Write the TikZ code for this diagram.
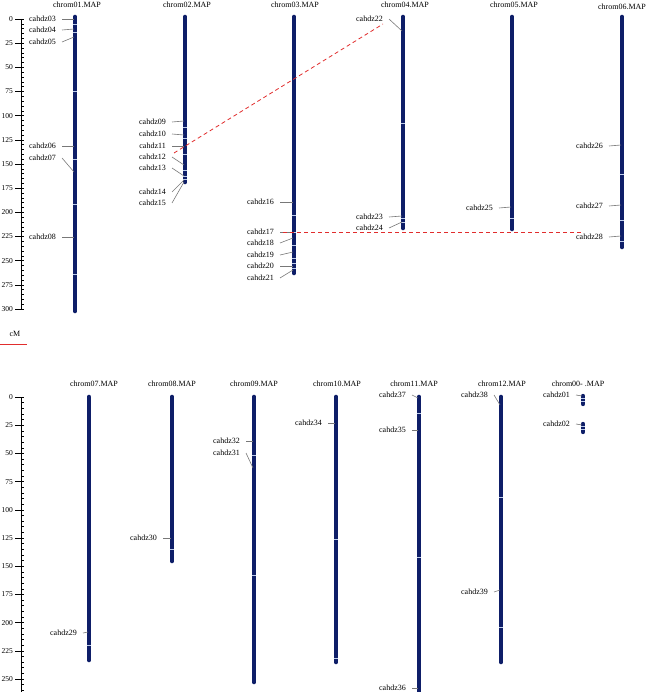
\documentclass[tikz,border=0pt]{standalone}
\usepackage{fontspec}
\setmainfont{Liberation Serif}
\definecolor{chrblue}{RGB}{14,30,104}
\definecolor{bandblue}{RGB}{190,205,235}
\definecolor{linkred}{RGB}{225,45,45}
\definecolor{leadgray}{RGB}{120,120,120}
\tikzset{
  chrbar/.style={draw=chrblue, line width=4.6pt, line cap=round},
  band/.style={draw=bandblue, line width=0.7pt},
  lbl/.style={font=\fontsize{8}{9}\selectfont, anchor=east, inner sep=0pt},
  ttl/.style={font=\fontsize{8}{9}\selectfont, inner sep=0pt},
  tlab/.style={font=\fontsize{7.5}{9}\selectfont, anchor=east, inner sep=0pt},
  lead/.style={draw=leadgray, line width=0.6pt},
  link/.style={draw=linkred, dashed, dash pattern=on 4pt off 3pt, line width=0.8pt},
  axisline/.style={draw=black, line width=0.6pt},
  scalebar/.style={color=linkred, line width=1.1pt},
}
% #1 marker number, #2 label east x, #3 label y, #4 bar x, #5 bar y
\newcommand\mkr[5]{%
  \node[lbl] (l#1) at (#2,#3) {cahdz#1};
  \coordinate (m#1) at (#4,#5);
  \draw[lead] ([xshift=6pt]l#1.east) -- (m#1);
}
% #1 bar x, #2 list of band y
\newcommand\bands[2]{%
  \foreach \b in {#2} {\draw[band] (#1-2.4,\b) -- (#1+2.4,\b);}
}
\begin{document}
\begin{tikzpicture}[x=1pt,y=-1pt]
\useasboundingbox (0,0) rectangle (647,692);
\clip (0,0) rectangle (647,692);

% ---------- top axis ----------
\draw[axisline] (21,19) -- (21,309);
\foreach \i in {0,...,12} {
  \pgfmathsetmacro\yy{19+\i*24.1667}
  \pgfmathtruncatemacro\vv{\i*25}
  \draw[axisline] (15,\yy) -- (21,\yy);
  \node[tlab] (ta\i) at (13,\yy) {\vv};
}
\foreach \i in {0,...,60} {
  \pgfmathsetmacro\yy{19+\i*4.8333}
  \draw[axisline, line width=0.5pt] (21,\yy) -- (23.5,\yy);
}
\node[ttl] (cm) at (15,334) {cM};
\coordinate (sbl) at (0,344.5);
\coordinate (sbr) at (27,344.5);
\draw[scalebar] (sbl) -- (sbr);

% ---------- top row chromosomes ----------
\node[ttl] (t01) at (77,5) {chrom01.MAP};
\node[ttl] (t02) at (187,5) {chrom02.MAP};
\node[ttl] (t03) at (295,5) {chrom03.MAP};
\node[ttl] (t04) at (405,5) {chrom04.MAP};
\node[ttl] (t05) at (514,5) {chrom05.MAP};
\node[ttl] (t06) at (622,7) {chrom06.MAP};

\draw[chrbar] (75,17) -- (75,311);
\bands{75}{24,32,91,159,204,274}
\draw[chrbar] (185,17) -- (185,182);
\bands{185}{127,138,154,170,176,179}
\draw[chrbar] (294,17) -- (294,273);
\bands{294}{215,232,245,258,263,268}
\draw[chrbar] (403,17) -- (403,228);
\bands{403}{123,218,222}
\draw[chrbar] (512,17) -- (512,229);
\bands{512}{218}
\draw[chrbar] (622,17) -- (622,247);
\bands{622}{174,220,241}

% chrom01
\mkr{03}{56}{19}{74}{19}
\mkr{04}{56}{30}{74}{29}
\mkr{05}{56}{42}{74}{37}
\mkr{06}{56}{146}{74}{146}
\mkr{07}{56}{158}{74}{172}
\mkr{08}{56}{237}{74}{237}
% chrom02
\mkr{09}{166}{122}{184}{121}
\mkr{10}{166}{134}{184}{135}
\mkr{11}{166}{146}{184}{146}
\mkr{12}{166}{157}{184}{165}
\mkr{13}{166}{168}{184}{176}
\mkr{14}{166}{192}{184}{180}
\mkr{15}{166}{203}{184}{182}
% chrom03
\mkr{16}{274}{202}{293}{202}
\mkr{17}{274}{232}{293}{232}
\mkr{18}{274}{243}{293}{238}
\mkr{19}{274}{255}{293}{252}
\mkr{20}{274}{266}{293}{266}
\mkr{21}{274}{278}{293}{270}
% chrom04
\mkr{22}{383}{19}{402}{31}
\mkr{23}{383}{217}{402}{216}
\mkr{24}{383}{228}{402}{222}
% chrom05
\mkr{25}{493}{208}{511}{207}
% chrom06
\mkr{26}{603}{146}{621}{145}
\mkr{27}{603}{206}{621}{205}
\mkr{28}{603}{237}{621}{236}

% links
\coordinate (la) at (174,153);
\coordinate (lb) at (383,24);
\coordinate (lc) at (283,232);
\coordinate (ld) at (582,232);
\draw[link] (la) -- (lb);
\draw[link] (lc) -- (ld);

% ---------- bottom axis ----------
\draw[axisline] (21,397) -- (21,692);
\foreach \i in {0,...,10} {
  \pgfmathsetmacro\yy{397+\i*28.2}
  \pgfmathtruncatemacro\vv{\i*25}
  \draw[axisline] (15,\yy) -- (21,\yy);
  \node[tlab] (ba\i) at (13,\yy) {\vv};
}
\foreach \i in {0,...,52} {
  \pgfmathsetmacro\yy{397+\i*5.64}
  \draw[axisline, line width=0.5pt] (21,\yy) -- (23.5,\yy);
}

% ---------- bottom row chromosomes ----------
\node[ttl] (t07) at (94,384) {chrom07.MAP};
\node[ttl] (t08) at (172,384) {chrom08.MAP};
\node[ttl] (t09) at (254,384) {chrom09.MAP};
\node[ttl] (t10) at (337,384) {chrom10.MAP};
\node[ttl] (t11) at (414,384) {chrom11.MAP};
\node[ttl] (t12) at (502,384) {chrom12.MAP};
\node[ttl] (t00) at (578,384) {chrom00- .MAP};

\draw[chrbar] (89,397) -- (89,660);
\bands{89}{645}
\draw[chrbar] (172,397) -- (172,561);
\bands{172}{549}
\draw[chrbar] (254,397) -- (254,682);
\bands{254}{455,575}
\draw[chrbar] (336,397) -- (336,662);
\bands{336}{539,658}
\draw[chrbar] (419,397) -- (419,700);
\bands{419}{413,557}
\draw[chrbar] (501,397) -- (501,662);
\bands{501}{497,627}
\draw[chrbar, line width=4.4pt] (583,396) -- (583,404);
\bands{583}{398.5,401.5}
\draw[chrbar, line width=4.4pt] (583,424) -- (583,432);
\bands{583}{426.5,429.5}

\mkr{29}{77}{633}{88}{632}
\mkr{30}{157}{538}{171}{538}
\mkr{32}{240}{441}{253}{441}
\mkr{31}{240}{453}{253}{468}
\mkr{34}{322}{423}{335}{423}
\mkr{37}{406}{395}{418}{398}
\mkr{35}{406}{430}{418}{430}
\mkr{36}{406}{688}{418}{688}
\mkr{38}{488}{395}{500}{405}
\mkr{39}{488}{592}{500}{590}
\mkr{01}{570}{395}{582}{396}
\mkr{02}{570}{424}{582}{425}
\end{tikzpicture}
\end{document}
